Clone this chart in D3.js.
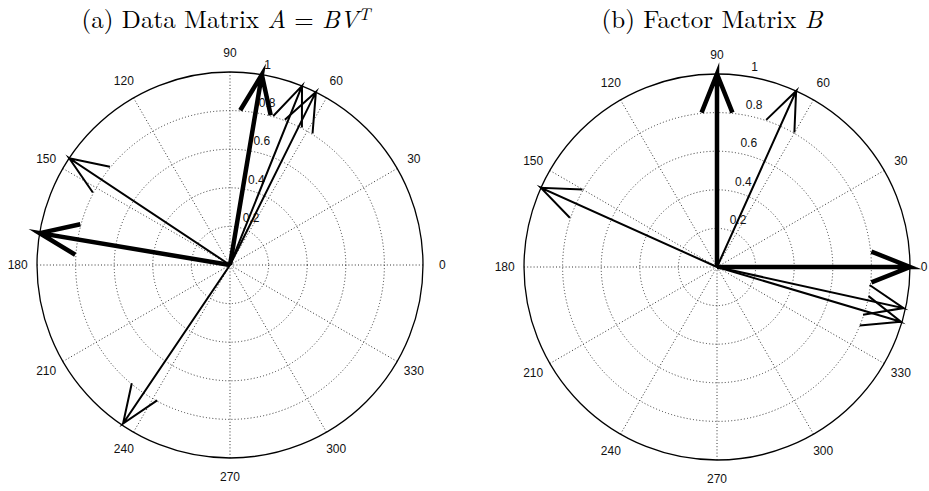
<!DOCTYPE html>
<html>
<head>
<meta charset="utf-8">
<script src="https://cdn.jsdelivr.net/npm/d3@7"></script>
<style>
  html, body { margin: 0; padding: 0; background: #fff; }
  svg { display: block; }
</style>
</head>
<body>
<svg id="chart"></svg>
<script>
// Vectors as (u, v) components, the way compass(u, v) takes them
const uA = [0.165, -0.986, -0.833, -0.554, 0.373, 0.445];
const vA = [0.986, 0.165, 0.553, -0.821, 0.928, 0.896];
const boldA = [true, true, false, false, false, false];

const uB = [0.000, 1.000, 0.410, -0.912, 0.967, 0.953];
const vB = [1.000, 0.000, 0.912, 0.410, -0.213, -0.284];
const boldB = [true, true, false, false, false, false];

const ringTicks = [0.2, 0.4, 0.6, 0.8, 1];
const ringLabels = ["0.2", "0.4", "0.6", "0.8", "1"];
const spokeAngles = [0, 30, 60, 90, 120, 150, 180, 210, 240, 270, 300, 330];

const width = 929;
const height = 491;
const R = 193;

const svg = d3.select("#chart")
    .attr("width", width)
    .attr("height", height);

function drawCompass(cx, cy, us, vs, bold) {
    const g = svg.append("g").attr("transform", `translate(${cx}, ${cy})`);
    const r = d3.scaleLinear().domain([0, 1]).range([0, R]);
    const rad = d => d * Math.PI / 180;

    // dotted rings
    g.selectAll(".ring")
        .data(ringTicks.slice(0, -1))
        .join("circle")
        .attr("class", "ring")
        .attr("r", d => r(d))
        .attr("fill", "none")
        .attr("stroke", "#333")
        .attr("stroke-width", 1)
        .attr("stroke-dasharray", "1,2.2");

    // dotted spokes
    g.selectAll(".spoke")
        .data(spokeAngles)
        .join("line")
        .attr("class", "spoke")
        .attr("x1", 0)
        .attr("y1", 0)
        .attr("x2", d => r(1) * Math.cos(rad(d)))
        .attr("y2", d => -r(1) * Math.sin(rad(d)))
        .attr("stroke", "#333")
        .attr("stroke-width", 1)
        .attr("stroke-dasharray", "1,2.2");

    // outer circle
    g.append("circle")
        .attr("r", r(1))
        .attr("fill", "none")
        .attr("stroke", "#000")
        .attr("stroke-width", 1.3);

    // angle labels (keep the 0 inside the window edge)
    g.selectAll(".ang")
        .data(spokeAngles)
        .join("text")
        .attr("class", "ang")
        .attr("x", d => Math.min(1.1 * r(1) * Math.cos(rad(d)), width - cx - 5))
        .attr("y", d => -1.1 * r(1) * Math.sin(rad(d)))
        .attr("text-anchor", "middle")
        .attr("dominant-baseline", "central")
        .attr("font-family", "Liberation Sans, Arial, sans-serif")
        .attr("font-size", "12px")
        .attr("fill", "#111")
        .text(d => d);

    // radial labels at 82 degrees
    g.selectAll(".rlab")
        .data(ringTicks)
        .join("text")
        .attr("class", "rlab")
        .attr("x", d => r(d + 0.01) * Math.cos(rad(82)) + 7)
        .attr("y", d => -r(d + 0.01) * Math.sin(rad(82)) - 3)
        .attr("font-family", "Liberation Sans, Arial, sans-serif")
        .attr("font-size", "12px")
        .attr("fill", "#111")
        .text((d, i) => ringLabels[i]);

    // arrows: shaft + head like MATLAB compass (head at 0.8 along, +-0.08 across)
    const vecs = us.map((u, i) => ({ u, v: vs[i], bold: bold[i] }));
    const line = d3.line().x(p => r(p[0])).y(p => -r(p[1]));
    g.selectAll(".arrow")
        .data(vecs)
        .join("path")
        .attr("class", "arrow")
        .attr("d", d => {
            const a = [0, 1, 0.8, 1, 0.8];
            const b = [0, 0, 0.08, 0, -0.08];
            const pts = a.map((ai, k) => [ai * d.u - b[k] * d.v, ai * d.v + b[k] * d.u]);
            return line(pts);
        })
        .attr("fill", "none")
        .attr("stroke", "#000")
        .attr("stroke-width", d => d.bold ? 4.5 : 2)
        .attr("stroke-linejoin", "miter")
        .attr("stroke-miterlimit", 10)
        .attr("stroke-linecap", "butt");
}

drawCompass(230, 265, uA, vA, boldA);
drawCompass(717, 267, uB, vB, boldB);

// titles
const serif = "Latin Modern Roman, CMU Serif, Liberation Serif, Times New Roman, serif";

const t1 = svg.append("text")
    .attr("x", 226)
    .attr("y", 28)
    .attr("text-anchor", "middle")
    .attr("font-family", serif)
    .attr("font-size", "25px")
    .attr("fill", "#000");
t1.append("tspan").text("(a) Data Matrix ");
t1.append("tspan").attr("font-style", "italic").text("A");
t1.append("tspan").text(" = ");
t1.append("tspan").attr("font-style", "italic").text("BV");
t1.append("tspan").attr("font-style", "italic").attr("font-size", "17px").attr("dy", -8).text("T");

const t2 = svg.append("text")
    .attr("x", 712)
    .attr("y", 28)
    .attr("text-anchor", "middle")
    .attr("font-family", serif)
    .attr("font-size", "25px")
    .attr("fill", "#000");
t2.append("tspan").text("(b) Factor Matrix ");
t2.append("tspan").attr("font-style", "italic").text("B");
</script>
</body>
</html>
